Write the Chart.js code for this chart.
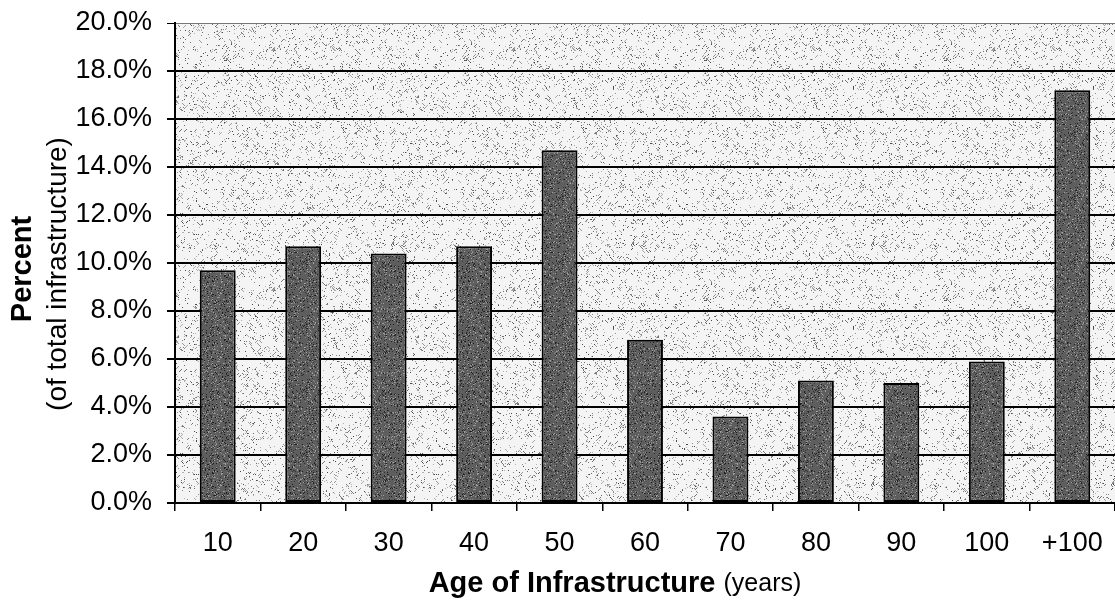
<!DOCTYPE html>
<html>
<head>
<meta charset="utf-8">
<script src="https://cdn.jsdelivr.net/npm/chart.js@4/dist/chart.umd.min.js"></script>
<style>
  html, body { margin: 0; padding: 0; background: #fff; }
  #wrap { width: 1115px; height: 614px; position: relative; }
</style>
</head>
<body>
<div id="wrap"><canvas id="ageChart"></canvas></div>
<script>
const categories = ['10', '20', '30', '40', '50', '60', '70', '80', '90', '100', '+100']
const percentValues = [9.7, 10.7, 10.4, 10.7, 14.7, 6.8, 3.6, 5.1, 5.0, 5.9, 17.2]
const yTickMin = 0
const yTickMax = 20
const yTickStep = 2

// small deterministic generator, only for the speckled paper texture
function makeRand(seed) {
  let s = seed
  return () => {
    s = (s * 1103515245 + 12345) % 2147483648
    return s / 2147483648
  }
}

function makePattern(size, base, dots, seed) {
  const c = document.createElement('canvas')
  c.width = size
  c.height = size
  const g = c.getContext('2d')
  g.fillStyle = base
  g.fillRect(0, 0, size, size)
  const rand = makeRand(seed)
  dots.forEach((d) => {
    for (let i = 0; i < d.count; i++) {
      g.fillStyle = d.colors[Math.floor(rand() * d.colors.length)]
      const x = Math.floor(rand() * size)
      const y = Math.floor(rand() * size)
      // short broken strokes, like scanned halftone
      for (let k = 0; k < d.len; k++) {
        g.fillRect(x + k, y + (rand() < 0.5 ? k : -k), 1, 1)
      }
    }
  })
  return g.createPattern(c, 'repeat')
}

const ctx = document.getElementById('ageChart').getContext('2d')

const paper = makePattern(240, '#f4f4f4', [
  { count: 3200, len: 1, colors: ['#8a8a8a', '#6e6e6e', '#b0b0b0', '#4a4a4a'] },
  { count: 900, len: 3, colors: ['#999', '#777', '#aaa'] },
], 7)

const barFill = makePattern(64, '#5e5e5e', [
  { count: 1000, len: 1, colors: ['#1e1e1e', '#333', '#8c8c8c', '#a0a0a0'] },
], 3)

const paperBackground = {
  id: 'paperBackground',
  beforeDraw(chart) {
    const { ctx, chartArea: a } = chart
    ctx.save()
    ctx.fillStyle = paper
    ctx.fillRect(a.left, a.top, a.right - a.left, a.bottom - a.top)
    ctx.restore()
  },
}

const axisTitles = {
  id: 'axisTitles',
  afterDraw(chart) {
    const { ctx } = chart
    const family = '"Liberation Sans", Arial, sans-serif'
    ctx.save()
    ctx.fillStyle = '#000'
    ctx.textBaseline = 'middle'

    // x title: bold part + normal part
    const t1 = 'Age of Infrastructure '
    const t2 = '(years)'
    ctx.font = `bold 29px ${family}`
    const w1 = ctx.measureText(t1).width
    ctx.font = `25px ${family}`
    const w2 = ctx.measureText(t2).width
    const x = 615 - (w1 + w2) / 2
    ctx.textAlign = 'left'
    ctx.font = `bold 29px ${family}`
    ctx.fillText(t1, x, 584)
    ctx.font = `25px ${family}`
    ctx.fillText(t2, x + w1, 584)

    // y title, two rotated lines
    ctx.textAlign = 'center'
    ctx.save()
    ctx.translate(23, 269)
    ctx.rotate(-Math.PI / 2)
    ctx.font = `bold 29px ${family}`
    ctx.fillText('Percent', 0, 0)
    ctx.restore()

    ctx.save()
    ctx.translate(58, 274)
    ctx.rotate(-Math.PI / 2)
    ctx.font = `28px ${family}`
    ctx.fillText('(of total infrastructure)', 0, 0)
    ctx.restore()

    ctx.restore()
  },
}

new Chart(ctx, {
  type: 'bar',
  data: {
    labels: categories,
    datasets: [
      {
        label: 'Percent',
        data: percentValues,
        backgroundColor: barFill,
        borderColor: '#000',
        borderWidth: 2,
        borderSkipped: false,
        barPercentage: 0.42,
        categoryPercentage: 1,
      },
    ],
  },
  options: {
    responsive: true,
    maintainAspectRatio: false,
    animation: false,
    layout: { padding: { top: 23, right: 0, bottom: 0, left: 0 } },
    plugins: {
      legend: { display: false },
      tooltip: { enabled: false },
    },
    scales: {
      x: {
        afterFit: (scale) => {
          scale.height = 111
          scale.paddingLeft = 0
          scale.paddingRight = 0
        },
        grid: {
          drawOnChartArea: false,
          drawTicks: true,
          tickLength: 8,
          color: '#000',
          lineWidth: 1.5,
        },
        border: { display: true, color: '#000', width: 2 },
        ticks: {
          color: '#000',
          padding: 0,
          maxRotation: 0,
          font: { family: '"Liberation Sans", Arial, sans-serif', size: 27, lineHeight: 2.4 },
        },
      },
      y: {
        min: yTickMin,
        max: yTickMax,
        afterFit: (scale) => {
          scale.width = 175
          scale.paddingTop = 0
          scale.paddingBottom = 0
        },
        grid: {
          color: (c) => (c.tick && c.tick.value === yTickMax ? '#777' : '#000'),
          lineWidth: (c) => (c.tick && c.tick.value === yTickMax ? 1 : 2),
          tickLength: 8,
          tickColor: '#000',
        },
        border: { display: true, color: '#000', width: 2 },
        ticks: {
          stepSize: yTickStep,
          color: '#000',
          padding: 15,
          callback: (value) => `${value.toFixed(1)}%`,
          font: { family: '"Liberation Sans", Arial, sans-serif', size: 27 },
        },
      },
    },
  },
  plugins: [paperBackground, axisTitles],
})
</script>
</body>
</html>
